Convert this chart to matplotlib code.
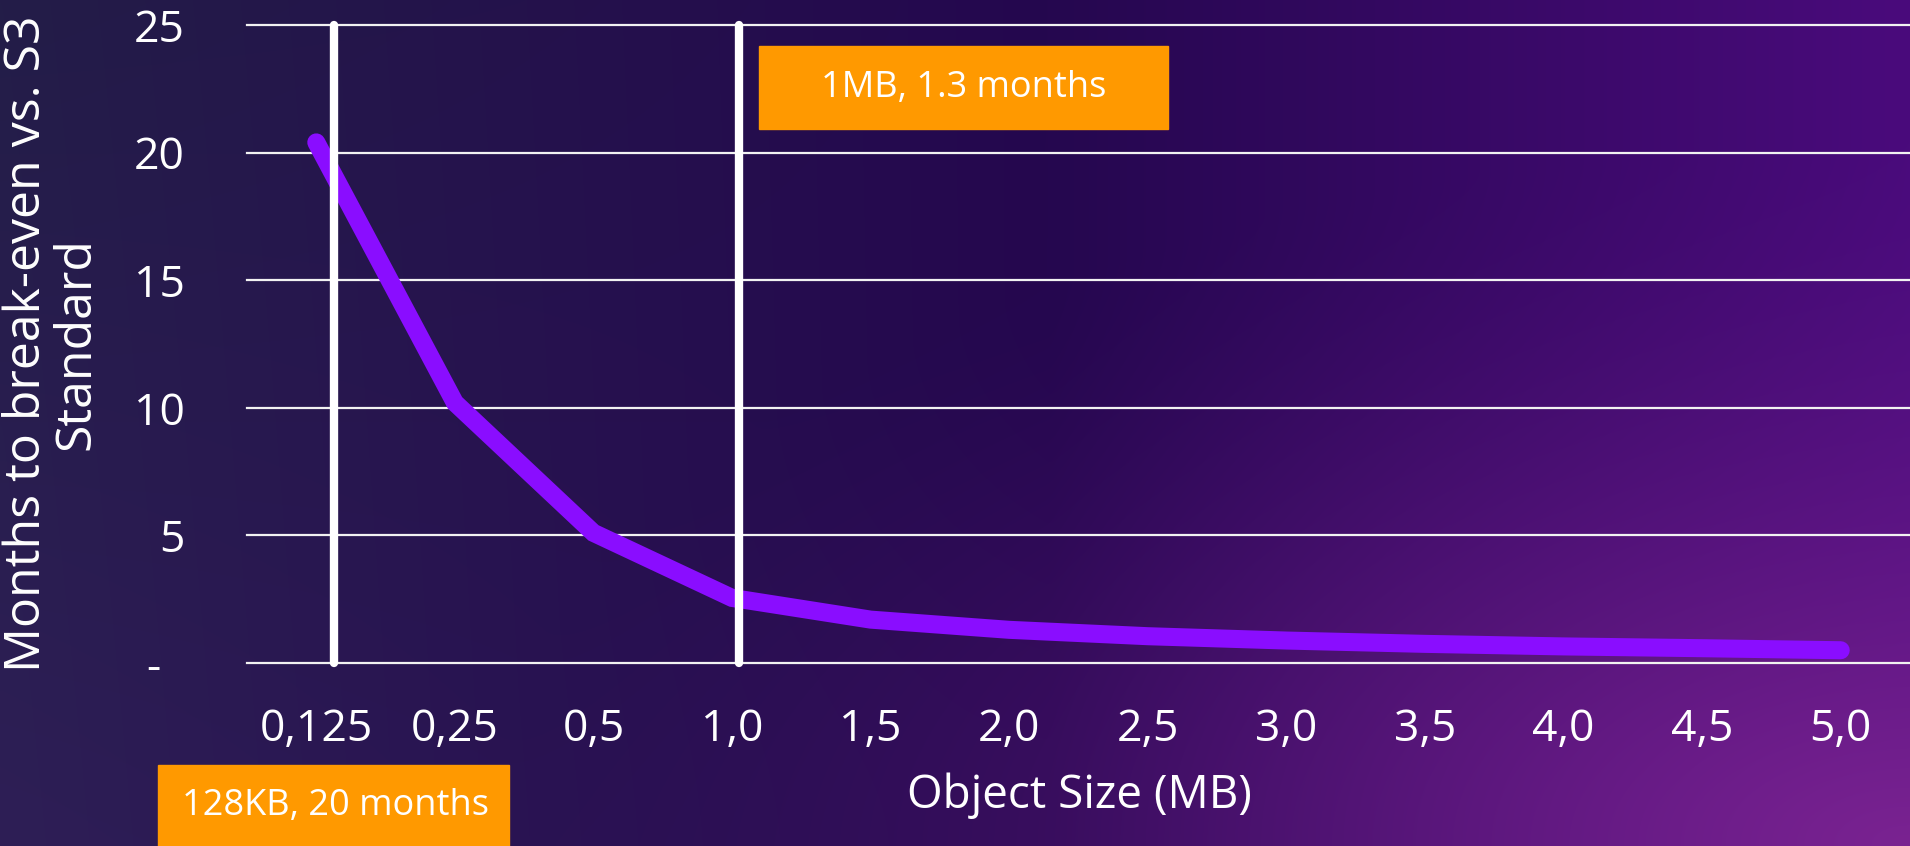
import matplotlib
matplotlib.use("Agg")
import matplotlib.pyplot as plt
from matplotlib.colors import to_rgb
from matplotlib.patches import Rectangle
import numpy as np

plt.rcParams['font.family'] = ['Open Sans', 'DejaVu Sans']

# data
sizes = ["0,125", "0,25", "0,5", "1,0", "1,5", "2,0", "2,5", "3,0", "3,5", "4,0", "4,5", "5,0"]
months = [20.4, 10.2, 5.1, 2.55, 1.7, 1.3, 1.05, 0.88, 0.75, 0.65, 0.58, 0.5]
yticks = [0, 5, 10, 15, 20, 25]
ytick_labels = ["-  ", "5", "10", "15", "20", "25"]
markers = [0.13, 3.05]  # the two white vertical lines (category coords)
notes = ["1MB, 1.3 months", "128KB, 20 months"]

W, H = 1910, 846
fig = plt.figure(figsize=(W / 100, H / 100), dpi=100)

# background gradient
def rgb(h):
    return np.array(to_rgb(h))

yy, xx = np.mgrid[0:1:200j, 0:1:400j]
left = rgb("#231d48")
mid = rgb("#25074f")
right = rgb("#4a0b7c")
t = xx[..., None]
base = np.where(t < 0.55,
                left + (mid - left) * (t / 0.55),
                mid + (right - mid) * ((t - 0.55) / 0.45))
base = base + (rgb("#2e1f56") - left) * (yy[..., None] * (1 - t / 0.55).clip(0, 1))
d = np.sqrt(((1 - xx) * 1.0) ** 2 + ((1 - yy) * 0.9) ** 2)
w = np.clip(1 - d / 0.75, 0, 1)[..., None] ** 1.6
bg = base * (1 - w) + rgb("#7a2391") * w
bax = fig.add_axes([0, 0, 1, 1], zorder=-10)
bax.imshow(bg, aspect="auto", extent=[0, 1, 0, 1], origin="upper", interpolation="bicubic")
bax.axis("off")

ax = fig.add_axes([247 / W, 1 - 663 / H, 1 - 247 / W, (663 - 25) / H])
ax.patch.set_alpha(0)
x = np.arange(len(sizes))
ax.set_xlim(-0.5, len(sizes) - 0.5)
ax.set_ylim(0, 25)

for v in yticks:
    ax.axhline(v, color="#f2f2f2", lw=1.6, zorder=1, clip_on=False)

ax.plot(x, months, color="#8a0dff", lw=13, solid_capstyle="round",
        solid_joinstyle="miter", zorder=3, clip_on=False)

for m in markers:
    ax.plot([m, m], [0, 25], color="white", lw=6, solid_capstyle="round",
            zorder=4, clip_on=False)

ax.set_xticks(x)
ax.set_xticklabels(sizes)
ax.set_yticks(yticks)
ax.set_yticklabels(ytick_labels)
ax.tick_params(axis="both", length=0, labelsize=32, colors="white")
ax.tick_params(axis="x", pad=32)
ax.tick_params(axis="y", pad=45)
for s in ax.spines.values():
    s.set_visible(False)

fig.text(1079 / W, 1 - 796 / H, "Object Size (MB)", color="white", fontsize=33,
         ha="center", va="center")
fig.text(52 / W, 1 - 344 / H, "Months to break-even vs. S3\nStandard", color="white",
         fontsize=36, ha="center", va="center", rotation=90, multialignment="center",
         linespacing=1.0)

# orange callouts
boxes = [(759, 46, 1168, 129), (158, 765, 509, 860)]
centers = [(964, 88), (335, 806)]
for (x0, y0, x1, y1), (cx, cy), note in zip(boxes, centers, notes):
    fig.patches.append(Rectangle((x0 / W, 1 - y1 / H), (x1 - x0) / W, (y1 - y0) / H,
                                 transform=fig.transFigure, color="#ff9900", zorder=5))
    fig.text(cx / W, 1 - cy / H, note, color="white", fontsize=26, ha="center",
             va="center", zorder=6)

fig.savefig("out.png", dpi=100)
